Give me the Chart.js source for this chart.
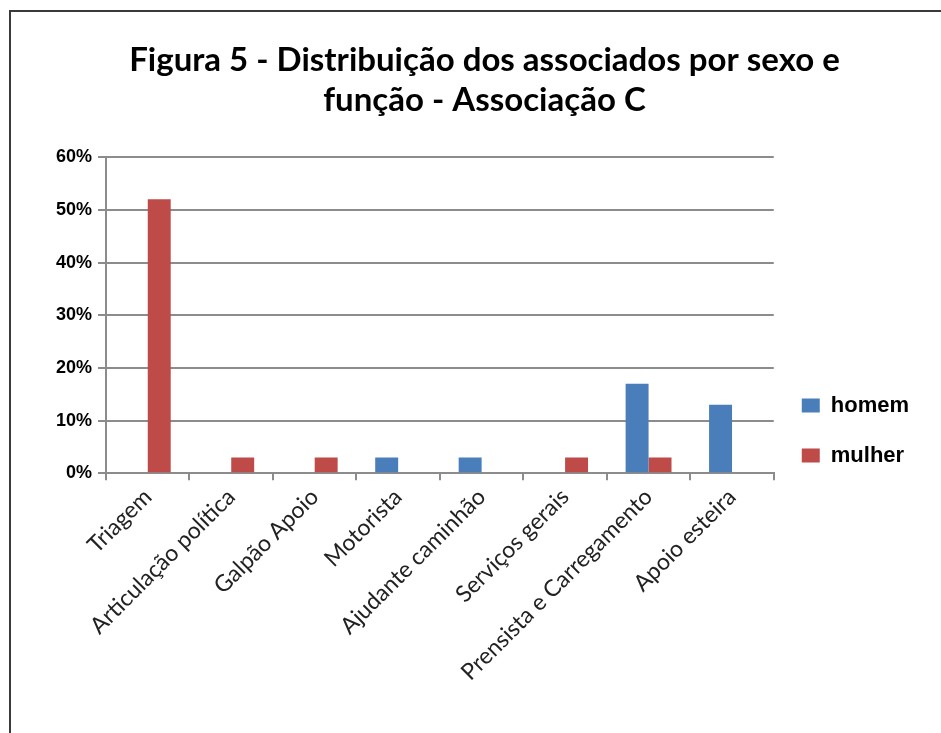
<!DOCTYPE html>
<html>
<head>
<meta charset="utf-8">
<script src="https://cdn.jsdelivr.net/npm/chart.js@4.4.0/dist/chart.umd.min.js"></script>
<style>
html, body { margin: 0; padding: 0; background: #fff; }
#wrap { width: 941px; height: 733px; position: relative; }
</style>
</head>
<body>
<div id="wrap"><canvas id="grafico"></canvas></div>
<script>
var categorias = ['Triagem', 'Articulação política', 'Galpão Apoio', 'Motorista',
    'Ajudante caminhão', 'Serviços gerais', 'Prensista e Carregamento', 'Apoio esteira'];
var valores_homem = [0, 0, 0, 3, 3, 0, 17, 13];
var valores_mulher = [52, 3, 3, 0, 0, 3, 3, 0];
var ticks_y = [0, 10, 20, 30, 40, 50, 60];

// moldura da figura (so topo e esquerda aparecem)
var moldura = {
    id: 'moldura',
    beforeDraw: function (chart) {
        var c = chart.ctx;
        c.save();
        c.fillStyle = '#fff';
        c.fillRect(0, 0, chart.width, chart.height);
        c.strokeStyle = '#3a3a3a';
        c.lineWidth = 2;
        c.beginPath();
        c.moveTo(10, chart.height);
        c.lineTo(10, 11);
        c.lineTo(chart.width, 11);
        c.stroke();
        c.restore();
    }
};

var ctx = document.getElementById('grafico');
new Chart(ctx, {
    type: 'bar',
    data: {
        labels: categorias,
        datasets: [{
            label: 'homem',
            data: valores_homem,
            backgroundColor: '#4a7ebb',
            borderWidth: 0
        }, {
            label: 'mulher',
            data: valores_mulher,
            backgroundColor: '#be4b48',
            borderWidth: 0
        }]
    },
    plugins: [moldura],
    options: {
        responsive: true,
        maintainAspectRatio: false,
        animation: false,
        datasets: {
            bar: { categoryPercentage: 0.55, barPercentage: 1.0 }
        },
        layout: { padding: { left: 50, right: 22, top: 41, bottom: 44 } },
        plugins: {
            title: {
                display: true,
                text: ['Figura 5 - Distribuição dos associados por sexo e', 'função - Associação C'],
                color: '#000',
                font: { family: 'Lato', size: 33, weight: 'bold' },
                padding: { top: 0, bottom: 37 },
                lineHeight: 1.25
            },
            legend: {
                position: 'right',
                // titulo vazio so para descer os itens da legenda
                title: {
                    display: true,
                    text: ' ',
                    font: { size: 10 },
                    padding: { top: 119, bottom: 0 }
                },
                labels: {
                    color: '#000',
                    boxWidth: 18,
                    boxHeight: 14,
                    padding: 28,
                    font: { family: 'Liberation Sans', size: 22, weight: 'bold' }
                }
            },
            tooltip: { enabled: false }
        },
        scales: {
            x: {
                grid: {
                    drawOnChartArea: false,
                    drawTicks: true,
                    tickLength: 7,
                    color: '#8c8c8c',
                    lineWidth: 2
                },
                border: { color: '#8c8c8c', width: 2 },
                ticks: {
                    color: '#222',
                    maxRotation: 45,
                    minRotation: 45,
                    font: { family: 'Lato', size: 23 }
                }
            },
            y: {
                min: 0,
                max: 60,
                afterBuildTicks: function (axis) {
                    axis.ticks = ticks_y.map(function (v) { return { value: v }; });
                },
                grid: {
                    color: '#8c8c8c',
                    lineWidth: 2,
                    tickLength: 8
                },
                border: { color: '#8c8c8c', width: 2 },
                ticks: {
                    color: '#000',
                    padding: 6,
                    font: { family: 'Liberation Sans', size: 18, weight: 'bold' },
                    callback: function (value) { return value + '%'; }
                }
            }
        }
    }
});
</script>
</body>
</html>
